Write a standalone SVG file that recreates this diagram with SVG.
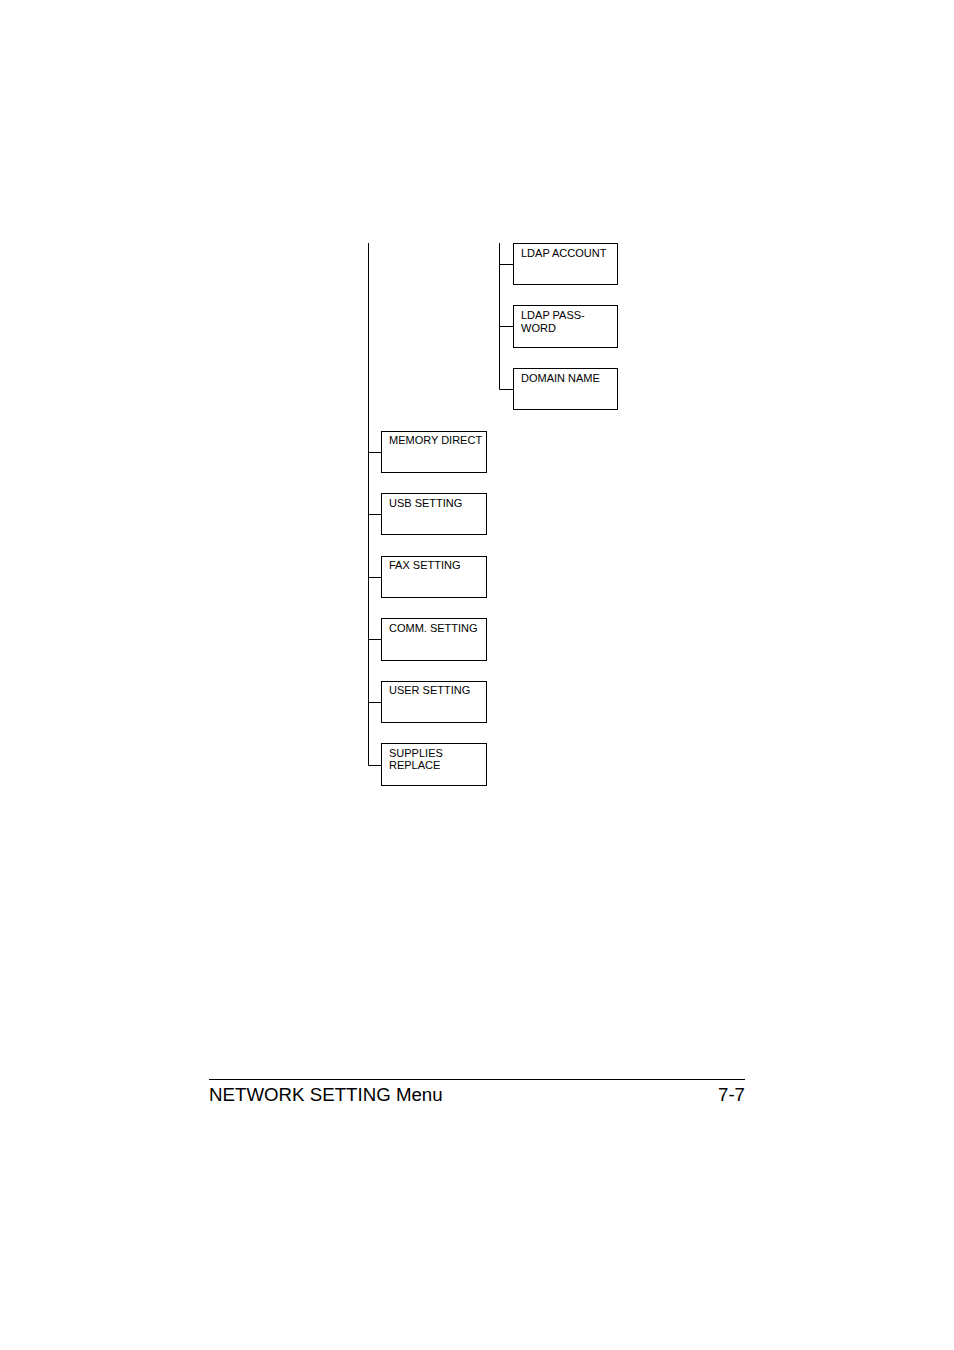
<svg xmlns="http://www.w3.org/2000/svg" width="954" height="1350" viewBox="0 0 954 1350">
<style>
.box{fill:#fff;stroke:#000;stroke-width:1}
.ln{fill:none;stroke:#000;stroke-width:1}
.t{font-family:"Liberation Sans",Arial,sans-serif;font-size:11px;fill:#000}
.f{font-family:"Liberation Sans",Arial,sans-serif;font-size:18.7px;fill:#000}
</style>
<rect width="954" height="1350" fill="#fff"/>
<g id="connectors">
<path class="ln" d="M368.5 243V765.5H381"/>
<path class="ln" d="M368.5 452.5H381M368.5 514.5H381M368.5 577.5H381M368.5 639.5H381M368.5 702.5H381"/>
<path class="ln" d="M499.5 243V389.5H513"/>
<path class="ln" d="M499.5 264.5H513M499.5 326.5H513"/>
</g>
<g id="ldap-account"><rect class="box" x="513.5" y="243.5" width="104" height="41"/><text class="t" x="521" y="257">LDAP ACCOUNT</text></g>
<g id="ldap-password"><rect class="box" x="513.5" y="305.5" width="104" height="42"/><text class="t" x="521" y="319">LDAP PASS-</text><text class="t" x="521" y="332">WORD</text></g>
<g id="domain-name"><rect class="box" x="513.5" y="368.5" width="104" height="41"/><text class="t" x="521" y="382">DOMAIN NAME</text></g>
<g id="memory-direct"><rect class="box" x="381.5" y="431.5" width="105" height="41"/><text class="t" x="389" y="444">MEMORY DIRECT</text></g>
<g id="usb-setting"><rect class="box" x="381.5" y="493.5" width="105" height="41"/><text class="t" x="389" y="507">USB SETTING</text></g>
<g id="fax-setting"><rect class="box" x="381.5" y="556.5" width="105" height="41"/><text class="t" x="389" y="569">FAX SETTING</text></g>
<g id="comm-setting"><rect class="box" x="381.5" y="618.5" width="105" height="42"/><text class="t" x="389" y="632">COMM. SETTING</text></g>
<g id="user-setting"><rect class="box" x="381.5" y="681.5" width="105" height="41"/><text class="t" x="389" y="694">USER SETTING</text></g>
<g id="supplies-replace"><rect class="box" x="381.5" y="743.5" width="105" height="42"/><text class="t" x="389" y="757">SUPPLIES</text><text class="t" x="389" y="769">REPLACE</text></g>
<g id="footer">
<path class="ln" d="M209 1079.5H745"/>
<text class="f" x="209" y="1101">NETWORK SETTING Menu</text>
<text class="f" x="745" y="1101" text-anchor="end">7-7</text>
</g>
</svg>
